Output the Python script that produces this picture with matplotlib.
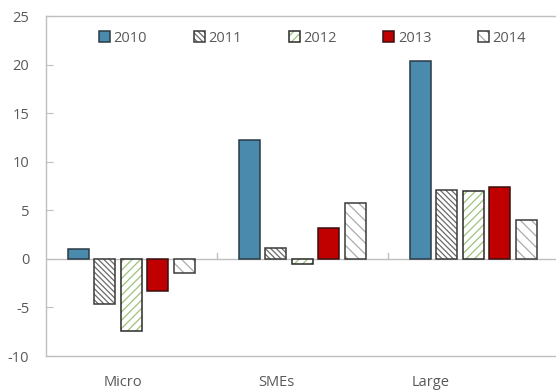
import numpy as np
import matplotlib
matplotlib.use("Agg")
import matplotlib.pyplot as plt
from matplotlib.patches import Patch

plt.rcParams["font.family"] = ["Open Sans", "DejaVu Sans"]
plt.rcParams["hatch.linewidth"] = 0.9
plt.rcParams["axes.unicode_minus"] = False

categories = ["Micro", "SMEs", "Large"]
years = ["2010", "2011", "2012", "2013", "2014"]
v2010 = [1.0, 12.2, 20.4]
v2011 = [-4.6, 1.1, 7.1]
v2012 = [-7.4, -0.5, 7.0]
v2013 = [-3.3, 3.2, 7.4]
v2014 = [-1.5, 5.8, 4.0]
series = [v2010, v2011, v2012, v2013, v2014]

# fill colour, hatch pattern, hatch colour, edge colour
styles = [
    ("#4a8aad", "", None, "#2b3a44"),
    ("white", "\\\\\\\\\\\\", "#6a6a6a", "#3a3a3a"),
    ("white", "////", "#9cc47a", "#2a2a2a"),
    ("#c00000", "", None, "#3a1010"),
    ("white", "\\\\\\", "#ababab", "#3a3a3a"),
]

fig = plt.figure(figsize=(5.56, 3.91), dpi=100)
ax = fig.add_axes([0.0827, 0.0895, 0.9223, 0.8695])

x = np.arange(len(categories))
width = 0.123
pitch = 0.155
handles = []
for i, (vals, (fc, hatch, hc, ec)) in enumerate(zip(series, styles)):
    pos = x + (i - 2) * pitch
    if hatch:
        ax.bar(pos, vals, width, color=fc, hatch=hatch, edgecolor=hc, linewidth=0, zorder=2)
        ax.bar(pos, vals, width, fill=False, edgecolor=ec, linewidth=1.1, zorder=3)
        h = (Patch(facecolor=fc, hatch=hatch, edgecolor=hc, linewidth=0),
             Patch(fill=False, edgecolor=ec, linewidth=1.1))
    else:
        ax.bar(pos, vals, width, color=fc, edgecolor=ec, linewidth=1.1, zorder=3)
        h = Patch(facecolor=fc, edgecolor=ec, linewidth=1.1)
    handles.append(h)

ax.set_xlim(-0.5, 2.5)
ax.set_ylim(-10, 25)
ax.set_yticks(np.arange(-10, 26, 5))

grey = "#bfbfbf"
txt = "#595959"
for s in ["left", "bottom", "top"]:
    ax.spines[s].set_color(grey)
    ax.spines[s].set_linewidth(1.0)
ax.spines["right"].set_visible(False)
ax.axhline(0, color=grey, linewidth=1.0, zorder=1)
# category separators sit on the zero line
for b in [0.5, 1.5]:
    ax.plot([b, b], [0, 0.6], color=grey, linewidth=1.0, zorder=1)

ax.tick_params(axis="y", direction="in", length=5, color=grey, labelsize=10.5,
               labelcolor=txt, pad=12)
# category names sit a little left of their groups
ax.set_xticks(x - 0.05 - 0.1 * x)
ax.set_xticklabels(categories)
ax.tick_params(axis="x", length=0, labelsize=10.5, labelcolor=txt, pad=14)

leg = ax.legend(handles, years, loc="upper center", bbox_to_anchor=(0.52, 0.995),
                ncol=5, frameon=False, fontsize=10.5, handlelength=0.75,
                handleheight=0.8, handletextpad=0.25, columnspacing=3.2)
for t in leg.get_texts():
    t.set_color(txt)

fig.savefig("out.png", dpi=100)
